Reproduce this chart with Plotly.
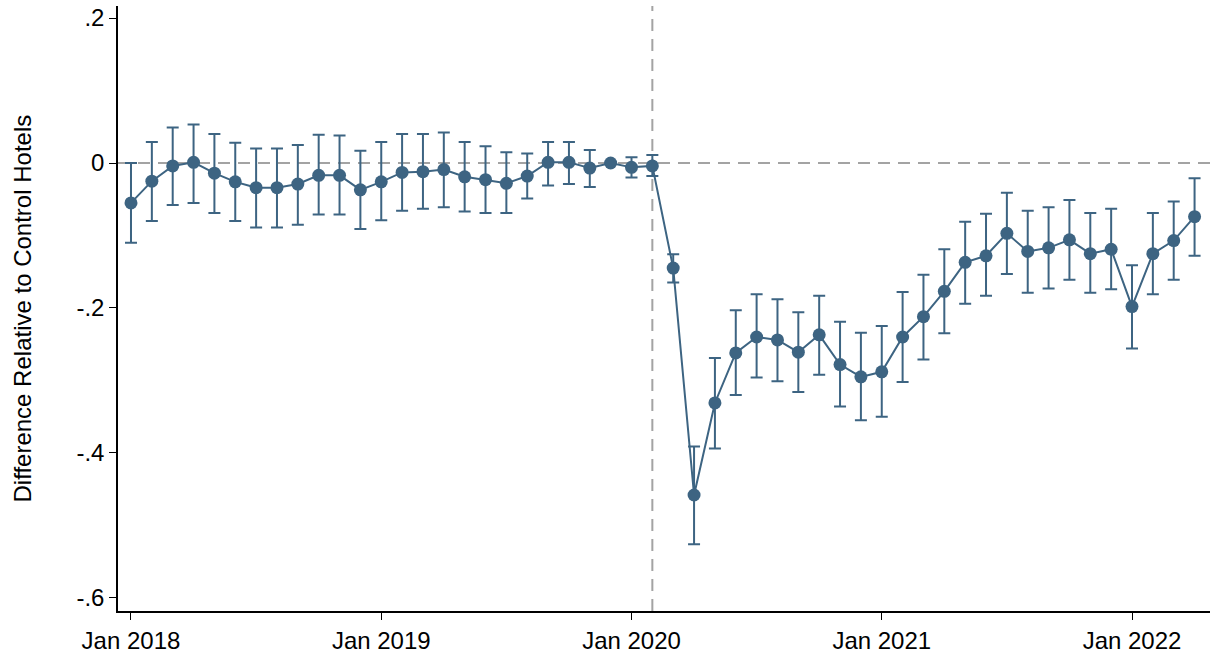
import plotly.graph_objects as go

# Monthly event-study estimates, Jan 2018 .. Apr 2022 (Dec 2019 = reference month)
months = [f"{y}-{m:02d}" for y in range(2018, 2023) for m in range(1, 13)][:52]

coef = [-0.055, -0.025, -0.004, 0.001, -0.014, -0.026, -0.034, -0.034, -0.029, -0.017,
        -0.017, -0.037, -0.026, -0.013, -0.012, -0.009, -0.019, -0.023, -0.028, -0.018,
        0.001, 0.001, -0.007, 0.0, -0.006, -0.004, -0.145, -0.458, -0.331, -0.262,
        -0.240, -0.244, -0.261, -0.237, -0.278, -0.295, -0.288, -0.240, -0.212, -0.177,
        -0.137, -0.128, -0.097, -0.122, -0.117, -0.106, -0.125, -0.119, -0.198, -0.125,
        -0.107, -0.074]

ci_hi = [0.000, 0.029, 0.049, 0.053, 0.040, 0.028, 0.020, 0.020, 0.025, 0.039,
         0.038, 0.017, 0.029, 0.040, 0.040, 0.042, 0.029, 0.023, 0.015, 0.013,
         0.029, 0.029, 0.018, None, 0.008, 0.011, -0.126, -0.391, -0.269, -0.203,
         -0.181, -0.188, -0.206, -0.183, -0.219, -0.234, -0.225, -0.178, -0.154, -0.119,
         -0.081, -0.070, -0.041, -0.066, -0.061, -0.051, -0.069, -0.063, -0.141, -0.069,
         -0.053, -0.021]

ci_lo = [-0.110, -0.080, -0.058, -0.055, -0.069, -0.080, -0.089, -0.089, -0.085, -0.071,
         -0.071, -0.091, -0.079, -0.066, -0.063, -0.061, -0.067, -0.069, -0.069, -0.049,
         -0.031, -0.029, -0.033, None, -0.020, -0.018, -0.165, -0.526, -0.394, -0.320,
         -0.296, -0.301, -0.316, -0.292, -0.336, -0.355, -0.350, -0.302, -0.271, -0.235,
         -0.194, -0.183, -0.153, -0.179, -0.173, -0.161, -0.179, -0.174, -0.256, -0.181,
         -0.161, -0.128]

tick_labels = ["Jan 2018", "Jan 2019", "Jan 2020", "Jan 2021", "Jan 2022"]
y_ticks = [0.2, 0, -0.2, -0.4, -0.6]
y_tick_text = [".2", "0", "-.2", "-.4", "-.6"]
event_month = "2020-02"
y_title = "Difference Relative to Control Hotels"

x = list(range(len(coef)))
tick_pos = [months.index(lbl[-4:] + "-01") for lbl in tick_labels]
event_x = months.index(event_month)

err_plus = [None if h is None else h - c for h, c in zip(ci_hi, coef)]
err_minus = [None if l is None else c - l for l, c in zip(ci_lo, coef)]

COL = "#3d6482"
GRAY = "#a3a3a3"
FONT = "Liberation Sans, Arial, sans-serif"

fig = go.Figure()

fig.add_shape(type="line", xref="paper", yref="y", x0=0, x1=1, y0=0, y1=0,
              line=dict(color=GRAY, width=2, dash="12px,8px"), layer="below")
fig.add_shape(type="line", xref="x", yref="paper", x0=event_x, x1=event_x, y0=0, y1=1,
              line=dict(color=GRAY, width=2, dash="12px,8px"), layer="below")

fig.add_trace(go.Scatter(
    x=x, y=coef, mode="lines+markers",
    line=dict(color=COL, width=2),
    marker=dict(color=COL, size=13),
    error_y=dict(type="data", symmetric=False, array=err_plus, arrayminus=err_minus,
                 color=COL, thickness=2, width=6),
    showlegend=False,
    cliponaxis=False,
))

L, R, T, B = 118, 0, 6, 45
W, H = 1210, 656

fig.add_annotation(
    text=y_title, textangle=-90, showarrow=False,
    xref="paper", yref="paper",
    x=(22 - L) / (W - L - R), y=0.5, xanchor="center", yanchor="middle",
    font=dict(family=FONT, size=24, color="black"),
)

fig.update_layout(
    width=W, height=H,
    margin=dict(l=L, r=R, t=T, b=B, autoexpand=False),
    paper_bgcolor="white", plot_bgcolor="white",
    font=dict(family=FONT, size=24, color="black"),
    xaxis=dict(
        range=[-0.623, 51.74], tickmode="array", tickvals=tick_pos, ticktext=tick_labels,
        showgrid=False, zeroline=False, showline=True, linecolor="black", linewidth=1.5,
        ticks="outside", ticklen=7, tickwidth=1.2, tickcolor="black",
        tickfont=dict(size=24), automargin=False,
    ),
    yaxis=dict(
        range=[-0.618, 0.2166], tickmode="array", tickvals=y_ticks, ticktext=y_tick_text,
        showgrid=False, zeroline=False, showline=True, linecolor="black", linewidth=1.5,
        ticks="outside", ticklen=7, tickwidth=1.2, tickcolor="black",
        tickfont=dict(size=24), automargin=False,
    ),
)

fig.write_html(
    "out.html",
    config={"displayModeBar": False},
    post_script="document.body.style.margin='0';document.body.style.overflow='hidden';",
)
